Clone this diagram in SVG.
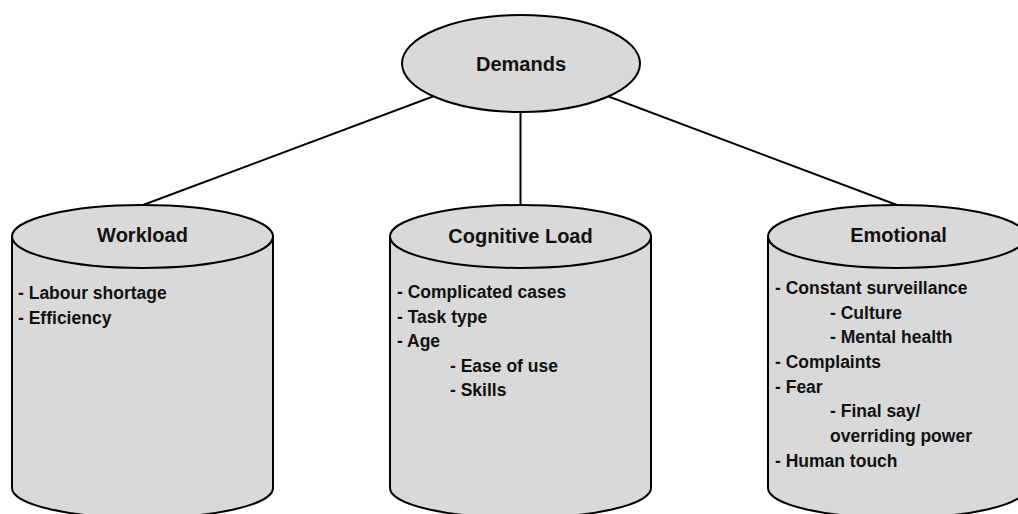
<svg xmlns="http://www.w3.org/2000/svg" width="1018" height="514" viewBox="0 0 1018 514">
<style>
.shape{fill:#d9d9d9;stroke:#000;stroke-width:2}
.conn{stroke:#000;stroke-width:2;fill:none}
.title{font-family:"Liberation Sans",Arial,sans-serif;font-weight:bold;font-size:20px;fill:#111;text-anchor:middle}
.item{font-family:"Liberation Sans",Arial,sans-serif;font-weight:bold;font-size:17.5px;fill:#111}
</style>
<rect width="1018" height="514" fill="#fff"/>
<g id="connectors">
<line class="conn" x1="521" y1="63.5" x2="143" y2="205"/>
<line class="conn" x1="520.5" y1="63.5" x2="520.5" y2="206"/>
<line class="conn" x1="521" y1="63.5" x2="897" y2="205"/>
</g>
<g id="demands">
<ellipse class="shape" cx="521" cy="63.5" rx="119" ry="48.5"/>
<text class="title" x="521" y="71">Demands</text>
</g>
<g id="workload">
<path class="shape" d="M12 236.5 L12 488 A130.5 30 0 0 0 273 488 L273 236.5 Z"/>
<ellipse class="shape" cx="142.5" cy="236.5" rx="130.5" ry="31.5"/>
<text class="title" x="142.5" y="242">Workload</text>
<text class="item" x="18" y="299">- Labour shortage</text>
<text class="item" x="18" y="324">- Efficiency</text>
</g>
<g id="cognitive-load">
<path class="shape" d="M390 236.5 L390 488 A130.5 30 0 0 0 651 488 L651 236.5 Z"/>
<ellipse class="shape" cx="520.5" cy="236.5" rx="130.5" ry="31.5"/>
<text class="title" x="520.5" y="243">Cognitive Load</text>
<text class="item" x="397" y="298">- Complicated cases</text>
<text class="item" x="397" y="322.5">- Task type</text>
<text class="item" x="397" y="347">- Age</text>
<text class="item" x="450" y="371.5">- Ease of use</text>
<text class="item" x="450" y="396">- Skills</text>
</g>
<g id="emotional">
<path class="shape" d="M768 236.5 L768 488 A129 30 0 0 0 1026 488 L1026 236.5 Z"/>
<ellipse class="shape" cx="897" cy="236.5" rx="129" ry="31.5"/>
<text class="title" x="898.5" y="242">Emotional</text>
<text class="item" x="775" y="294">- Constant surveillance</text>
<text class="item" x="830" y="318.5">- Culture</text>
<text class="item" x="830" y="343">- Mental health</text>
<text class="item" x="775" y="368">- Complaints</text>
<text class="item" x="775" y="392.5">- Fear</text>
<text class="item" x="830" y="417">- Final say/</text>
<text class="item" x="830" y="442">overriding power</text>
<text class="item" x="775" y="466.5">- Human touch</text>
</g>
</svg>
